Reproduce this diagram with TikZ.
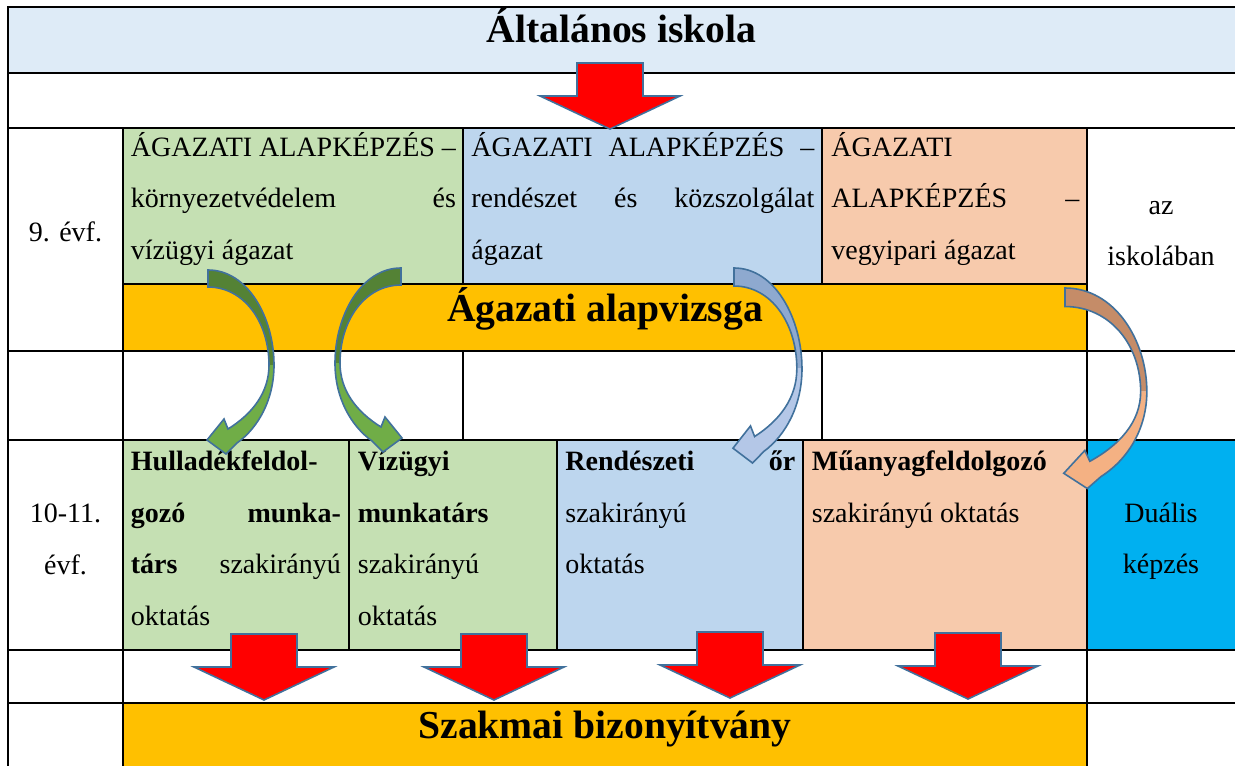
\documentclass[tikz,border=0pt]{standalone}
\usepackage{fontspec}
\setmainfont{Liberation Serif}

\definecolor{headblue}{HTML}{DEEBF7}
\definecolor{greencell}{HTML}{C5E0B3}
\definecolor{bluecell}{HTML}{BDD6EE}
\definecolor{peachcell}{HTML}{F7CAAC}
\definecolor{examband}{HTML}{FFC000}
\definecolor{dualcell}{HTML}{00B0F0}
\definecolor{arrowedge}{HTML}{41719C}
\definecolor{greenback}{HTML}{548235}
\definecolor{greenfront}{HTML}{70AD47}
\definecolor{blueback}{HTML}{8EA9CF}
\definecolor{bluefront}{HTML}{B4C7E7}
\definecolor{orangeback}{HTML}{C58C68}
\definecolor{orangefront}{HTML}{F4B183}

\newcommand\bodyfont{\fontsize{14}{25.8}\selectfont\frenchspacing\tolerance=10000\hbadness=10000\hyphenpenalty=10000}
\newcommand\headfont{\fontsize{19.8}{24}\selectfont\bfseries}

% curved block arrow, back half #1, front half #2, drawn at the current origin
\newcommand\bentarrow[2]{%
  \fill[#1] (0,0) .. controls (40,0) and (66,48) .. (66,95) -- (61,95)
    .. controls (61,52) and (36,17) .. (0,17) -- cycle;
  \fill[#2] (66,95) .. controls (66,130) and (50,158) .. (29,173) -- (18,184)
    -- (-1,170) -- (16,149) -- (20,159) .. controls (44,144) and (61,123) .. (61,95) -- cycle;
  \draw[bentedge] (0,0) .. controls (40,0) and (66,48) .. (66,95)
    .. controls (66,130) and (50,158) .. (29,173) -- (18,184) -- (-1,170) -- (16,149)
    -- (20,159) .. controls (44,144) and (61,123) .. (61,95)
    .. controls (61,52) and (36,17) .. (0,17) -- cycle;
}

\tikzset{
  tableline/.style={line width=1pt, line cap=rect},
  celltext/.style={anchor=base west, inner sep=0pt, align=justify, font=\bodyfont},
  labeltext/.style={anchor=base, inner sep=0pt, align=center, font=\bodyfont},
  headtext/.style={anchor=base, inner sep=0pt, font=\headfont},
  redblock/.style={fill=red, draw=arrowedge, line width=0.8pt, line join=miter},
  bentedge/.style={draw=arrowedge, line width=0.8pt, line join=miter},
  redarrow/.pic={
    \filldraw[redblock] (-33,0) -- (33,0) -- (33,33) -- (70,33) -- (0,66)
      -- (-70,33) -- (-33,33) -- cycle;
  }
}

\begin{document}
\begin{tikzpicture}[x=0.5pt,y=-0.5pt]
  \useasboundingbox (0,0) rectangle (1235,765);
  \clip (0,0) rectangle (1235,765);

  % Cell backgrounds
  \fill[headblue] (8,7) rectangle (1240,73);
  \fill[greencell] (123,128) rectangle (463,284);
  \fill[bluecell] (463,128) rectangle (822,284);
  \fill[peachcell] (822,128) rectangle (1087,284);
  \fill[examband] (123,284) rectangle (1087,351);
  \fill[greencell] (123,440) rectangle (557,650);
  \fill[bluecell] (557,440) rectangle (803,650);
  \fill[peachcell] (803,440) rectangle (1087,650);
  \fill[dualcell] (1087,440) rectangle (1240,650);
  \fill[examband] (123,703) rectangle (1087,770);

  % Table rules
  \foreach \y in {7,73,128,351,440,650,703}
    \draw[tableline] (8,\y) -- (1240,\y);
  \draw[tableline] (123,284) -- (1087,284);
  \draw[tableline] (8,7) -- (8,770);
  \foreach \x in {123,1087}
    \draw[tableline] (\x,128) -- (\x,770);
  \foreach \x in {463,822}
    \draw[tableline] (\x,128) -- (\x,284) (\x,351) -- (\x,440);
  \foreach \x in {349,557,803}
    \draw[tableline] (\x,440) -- (\x,650);

  % Headings
  \node[headtext] (altisk) at (621.5,43) {Általános iskola};
  \node[headtext] (alapvizsga) at (605,321) {Ágazati alapvizsga};
  \node[headtext] (bizonyitvany) at (605,738) {Szakmai bizonyítvány};

  % Year labels and right column
  \node[labeltext, text width=60pt] (evf9) at (65.5,241) {9. évf.};
  \node[labeltext, text width=60pt] (evf1011) at (65.5,522.5) {10-11.\\évf.};
  \node[labeltext, text width=70pt] (iskolaban) at (1161,214) {az\\iskolában};
  \node[labeltext, text width=70pt] (dualis) at (1161,522) {Duális\\képzés};

  % 9th year cells
  \node[celltext, text width=162.5pt] (kornyezet) at (130.5,156)
    {ÁGAZATI ALAPKÉPZÉS –\linebreak környezetvédelem és\linebreak vízügyi ágazat};
  \node[celltext, text width=171.5pt] (rendeszet) at (471,156)
    {ÁGAZATI ALAPKÉPZÉS –\linebreak rendészet és közszolgálat\linebreak ágazat};
  \node[celltext, text width=124pt] (vegyipar) at (831,156)
    {ÁGAZATI\hfil\break ALAPKÉPZÉS –\linebreak vegyipari ágazat};

  % 10-11th year cells
  \node[celltext, text width=105pt] (hulladek) at (130.5,470.5)
    {\textbf{Hulladékfeldol-}\hfil\break \textbf{gozó munka-}\linebreak \textbf{társ} szakirányú\linebreak oktatás};
  \node[celltext, text width=96pt] (vizugy) at (357.5,470.5)
    {\textbf{Vízügyi}\hfil\break \textbf{munkatárs}\hfil\break szakirányú\hfil\break oktatás};
  \node[celltext, text width=115pt] (rendor) at (565,470.5)
    {\textbf{Rendészeti őr}\linebreak szakirányú\hfil\break oktatás};
  \node[celltext, text width=134pt] (muanyag) at (811.5,470.5)
    {\textbf{Műanyagfeldolgozó}\hfil\break szakirányú oktatás};

  % Red block arrows
  \pic (felso) at (610,63) {redarrow};
  \foreach \x/\y in {264/634,494/634,730/632,968/633}
    \pic at (\x,\y) {redarrow};

  % Curved arrows from the 9th year into the branches
  \begin{scope}[shift={(208,270)}]
    \bentarrow{greenback}{greenfront}
  \end{scope}
  \begin{scope}[shift={(401,268)}, xscale=-1]
    \bentarrow{greenback}{greenfront}
  \end{scope}
  \begin{scope}[shift={(734,268)}, xscale=1.03, yscale=1.06]
    \bentarrow{blueback}{bluefront}
  \end{scope}
  \begin{scope}[shift={(1065,288)}, xscale=1.24, yscale=1.09]
    \bentarrow{orangeback}{orangefront}
  \end{scope}
\end{tikzpicture}
\end{document}
